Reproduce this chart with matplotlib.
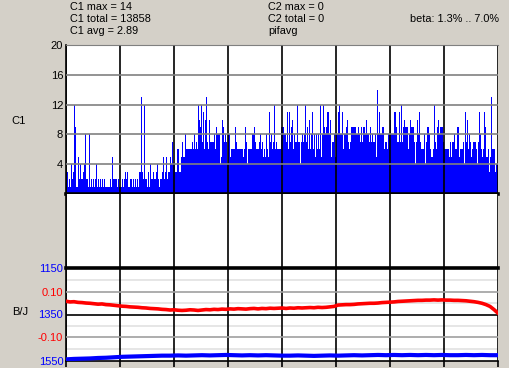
import numpy as np
import matplotlib
matplotlib.use("Agg")
import matplotlib.pyplot as plt

plt.rcParams['font.family'] = ['Liberation Sans', 'DejaVu Sans']
plt.rcParams['axes.unicode_minus'] = False

# C1 counts, one bar per column
c1_part1 = [3, 3, 1, 2, 1, 4, 2, 3, 12, 9, 1, 1, 5, 2, 4, 2, 2, 3, 4, 8,
            2, 2, 1, 8, 1, 2, 1, 2, 1, 2, 4, 1, 2, 1, 2, 1, 2, 1, 2, 1,
            1, 1, 1, 1, 2, 1, 5, 2, 2, 2, 2, 1, 2, 1, 1, 1, 2, 1, 2, 3,
            2, 3, 1, 1, 2, 2, 1, 2, 1, 2, 1, 2, 1, 3, 3, 13, 3, 2, 12, 2,
            2, 1, 3, 1, 4, 2, 2, 3, 2, 2, 3, 4, 2, 1, 2, 2, 3, 5, 2, 3,
            5, 2, 3, 3, 5, 4, 7, 4, 4]
c1_part2 = [3, 3, 6, 6, 3, 3, 5, 7, 5, 5, 8, 6, 6, 6, 6, 6, 6, 7, 6, 8,
            6, 7, 6, 12, 10, 9, 12, 7, 11, 6, 10, 13, 7, 6, 10, 7, 7, 7, 7, 8,
            6, 9, 8, 8, 8, 4, 5, 10, 9, 7, 8, 7, 4, 8, 8, 5, 6, 6, 6, 6,
            9, 7, 6, 6, 6, 6, 6, 6, 5, 6, 9, 7, 4, 6, 6, 6, 6, 8, 8, 9,
            7, 6, 6, 6, 7, 8, 6, 7, 5, 6, 5, 8, 6, 5, 11, 7, 8, 6, 7, 12,
            6, 7, 6, 6, 6, 6, 9, 9, 9, 8, 8]
c1_part3 = [7, 11, 6, 11, 7, 9, 10, 6, 8, 7, 7, 12, 7, 7, 4, 7, 8, 7, 8, 12,
            7, 9, 6, 10, 6, 8, 11, 6, 8, 5, 8, 6, 8, 6, 12, 5, 8, 12, 9, 8,
            9, 11, 11, 8, 10, 5, 7, 7, 8, 5, 8, 8, 11, 12, 8, 8, 11, 6, 8, 8,
            9, 10, 7, 6, 7, 9, 9, 9, 9, 9, 8, 8, 9, 8, 7, 9, 7, 9, 9, 8,
            10, 8, 8, 7, 9, 7, 8, 7, 7, 8, 5, 14, 8, 11, 8, 8, 9, 9, 6, 7,
            7, 6, 8, 8, 10, 8, 8, 8]
c1_part4 = [11, 11, 9, 7, 7, 11, 7, 12, 7, 9, 10, 9, 9, 9, 6, 8, 10, 9, 9, 9,
            7, 4, 7, 10, 8, 11, 7, 6, 6, 6, 8, 4, 7, 9, 9, 8, 6, 5, 5, 6,
            12, 7, 6, 9, 10, 8, 9, 9, 9, 7, 6, 6, 6, 6, 6, 5, 7, 5, 7, 7,
            8, 6, 6, 9, 9, 5, 6, 6, 6, 7, 4, 11, 7, 10, 6, 8, 7, 5, 6, 7,
            7, 7, 6, 4, 7, 11, 8, 6, 5, 6, 11, 9, 5, 5, 6, 3, 5, 13, 6, 6,
            6, 3, 4, 4]
c1 = c1_part1 + c1_part2 + c1_part3 + c1_part4

# pifavg (red, right scale) sampled every 4 columns
red_vals = [0.061, 0.058, 0.059, 0.056, 0.055, 0.053, 0.052, 0.050, 0.048, 0.049,
            0.046, 0.045, 0.043, 0.041, 0.039, 0.038, 0.036, 0.035, 0.034, 0.032,
            0.031, 0.029, 0.028, 0.027, 0.025, 0.024, 0.022, 0.023, 0.021, 0.020,
            0.021, 0.023, 0.022, 0.020, 0.022, 0.024, 0.023, 0.025, 0.024, 0.026,
            0.025, 0.027, 0.026, 0.028, 0.027, 0.026, 0.028, 0.029, 0.027, 0.029,
            0.028, 0.030, 0.029, 0.030, 0.031, 0.029, 0.031, 0.030, 0.032, 0.031,
            0.032, 0.033, 0.032, 0.034, 0.033, 0.034, 0.036, 0.038, 0.044, 0.045,
            0.046, 0.046, 0.047, 0.049, 0.050, 0.051, 0.052, 0.052, 0.053, 0.055,
            0.056, 0.057, 0.058, 0.060, 0.061, 0.062, 0.063, 0.064, 0.065, 0.065,
            0.066, 0.066, 0.067, 0.066, 0.067, 0.066, 0.066, 0.065, 0.065, 0.064,
            0.063, 0.061, 0.059, 0.056, 0.052, 0.046, 0.038, 0.024, 0.008]
# B/J (blue, left scale) sampled every 8 columns
blue_vals = [1543, 1541, 1540, 1539, 1537, 1536, 1534, 1532, 1531, 1530,
             1529, 1528, 1527, 1527, 1526, 1527, 1526, 1525, 1526, 1525,
             1524, 1525, 1526, 1525, 1526, 1525, 1526, 1527, 1527, 1526,
             1527, 1528, 1527, 1526, 1527, 1526, 1525, 1526, 1525, 1524,
             1525, 1524, 1525, 1524, 1525, 1524, 1525, 1524, 1525, 1525,
             1524, 1525, 1524, 1525, 1525]

top_ticks = [4, 8, 12, 16, 20]
blue_ticks = [1150, 1350, 1550]
red_ticks = [0.10, -0.10]
red_tick_labels = ["0.10", "-0.10"]

bg = '#d4d0c8'
n = len(c1)
xgrid = np.linspace(0, n, 9)

fig = plt.figure(figsize=(5.09, 3.68), dpi=100, facecolor=bg)
W, H = 509.0, 368.0
x0, x1 = 66, 498


def make_ax(ytop, ybot):
    return fig.add_axes([x0 / W, 1 - ybot / H, (x1 - x0) / W, (ybot - ytop) / H])


ax1 = make_ax(45, 194)
ax2 = make_ax(194, 268)
ax3 = make_ax(268, 361)

# top panel: C1 bars
ax1.bar(np.arange(n), c1, width=1.0, align='edge', color='#0000ff',
        linewidth=0, antialiased=False, zorder=2)
ax1.set_xlim(0, n)
ax1.set_ylim(0, 20)
ax1.set_yticks(top_ticks)
ax1.set_yticklabels([str(t) for t in top_ticks])
for t in top_ticks:
    ax1.axhline(t, color='#808080', lw=1.2, zorder=3)

# middle panel (C2 is empty)
ax2.set_xlim(0, n)
ax2.set_ylim(0, 1)
ax2.set_yticks([])

# bottom panel
ax3.set_xlim(0, n)
ax3.set_ylim(1550, 1150)
for v in [1200, 1300, 1400, 1500]:
    ax3.axhline(v, color='#e2e2e2', lw=1.2, zorder=1)
ax3.axhline(1350, color='black', lw=1.2, zorder=2)
ax3.plot(np.arange(0, n + 1, 8), blue_vals, color='#0000ff', lw=3.0, zorder=4)
ax3.set_yticks(blue_ticks)
ax3.set_yticklabels([str(t) for t in blue_ticks], color='#0000ff')

axr = ax3.twinx()
axr.set_xlim(0, n)
axr.set_ylim(-0.205, 0.209)
for v in red_ticks:
    axr.axhline(v, color='#a0a0a0', lw=1.2, zorder=1)
axr.plot(np.arange(0, n + 1, 4), red_vals, color='#ff0000', lw=2.6, zorder=4)
axr.yaxis.tick_left()
axr.set_yticks(red_ticks)
axr.set_yticklabels(red_tick_labels, color='#ff0000')
for s in axr.spines.values():
    s.set_visible(False)

for ax in (ax1, ax2, ax3):
    ax.set_facecolor('white')
    ax.set_xticks(xgrid)
    ax.grid(axis='x', color='black', lw=1.2, zorder=3)
    ax.set_axisbelow(False)
    ax.tick_params(axis='y', length=0, pad=2, labelsize=8)
    ax.tick_params(axis='x', labelbottom=False, length=0)
    ax.spines['right'].set_visible(False)
    ax.spines['left'].set_color('black')
    ax.spines['left'].set_linewidth(1.2)

ax1.spines['top'].set_color('#808080')
ax1.spines['bottom'].set_linewidth(2.6)
ax2.spines['top'].set_visible(False)
ax2.spines['bottom'].set_visible(False)
ax3.spines['top'].set_linewidth(2.6)
ax3.spines['bottom'].set_linewidth(1.2)
ax3.tick_params(axis='x', length=4, direction='out', width=1.2, color='black')
axr.tick_params(axis='y', length=0, pad=2, labelsize=8)

# header text
fs = 7.8
fig.text(70 / W, 1 - 7 / H, "C1 max = 14", fontsize=fs, va='center')
fig.text(70 / W, 1 - 19 / H, "C1 total = 13858", fontsize=fs, va='center')
fig.text(70 / W, 1 - 31 / H, "C1 avg = 2.89", fontsize=fs, va='center')
fig.text(268 / W, 1 - 7 / H, "C2 max = 0", fontsize=fs, va='center')
fig.text(268 / W, 1 - 19 / H, "C2 total = 0", fontsize=fs, va='center')
fig.text(268 / W, 1 - 31 / H, "pifavg", fontsize=fs, va='center')
fig.text(499 / W, 1 - 19 / H, "beta: 1.3% .. 7.0%", fontsize=fs, va='center', ha='right')
fig.text(11 / W, 1 - 121 / H, "C1", fontsize=8, va='center')
fig.text(12 / W, 1 - 312 / H, "B/J", fontsize=8, va='center')

fig.savefig("out.png", dpi=100, facecolor=bg)
